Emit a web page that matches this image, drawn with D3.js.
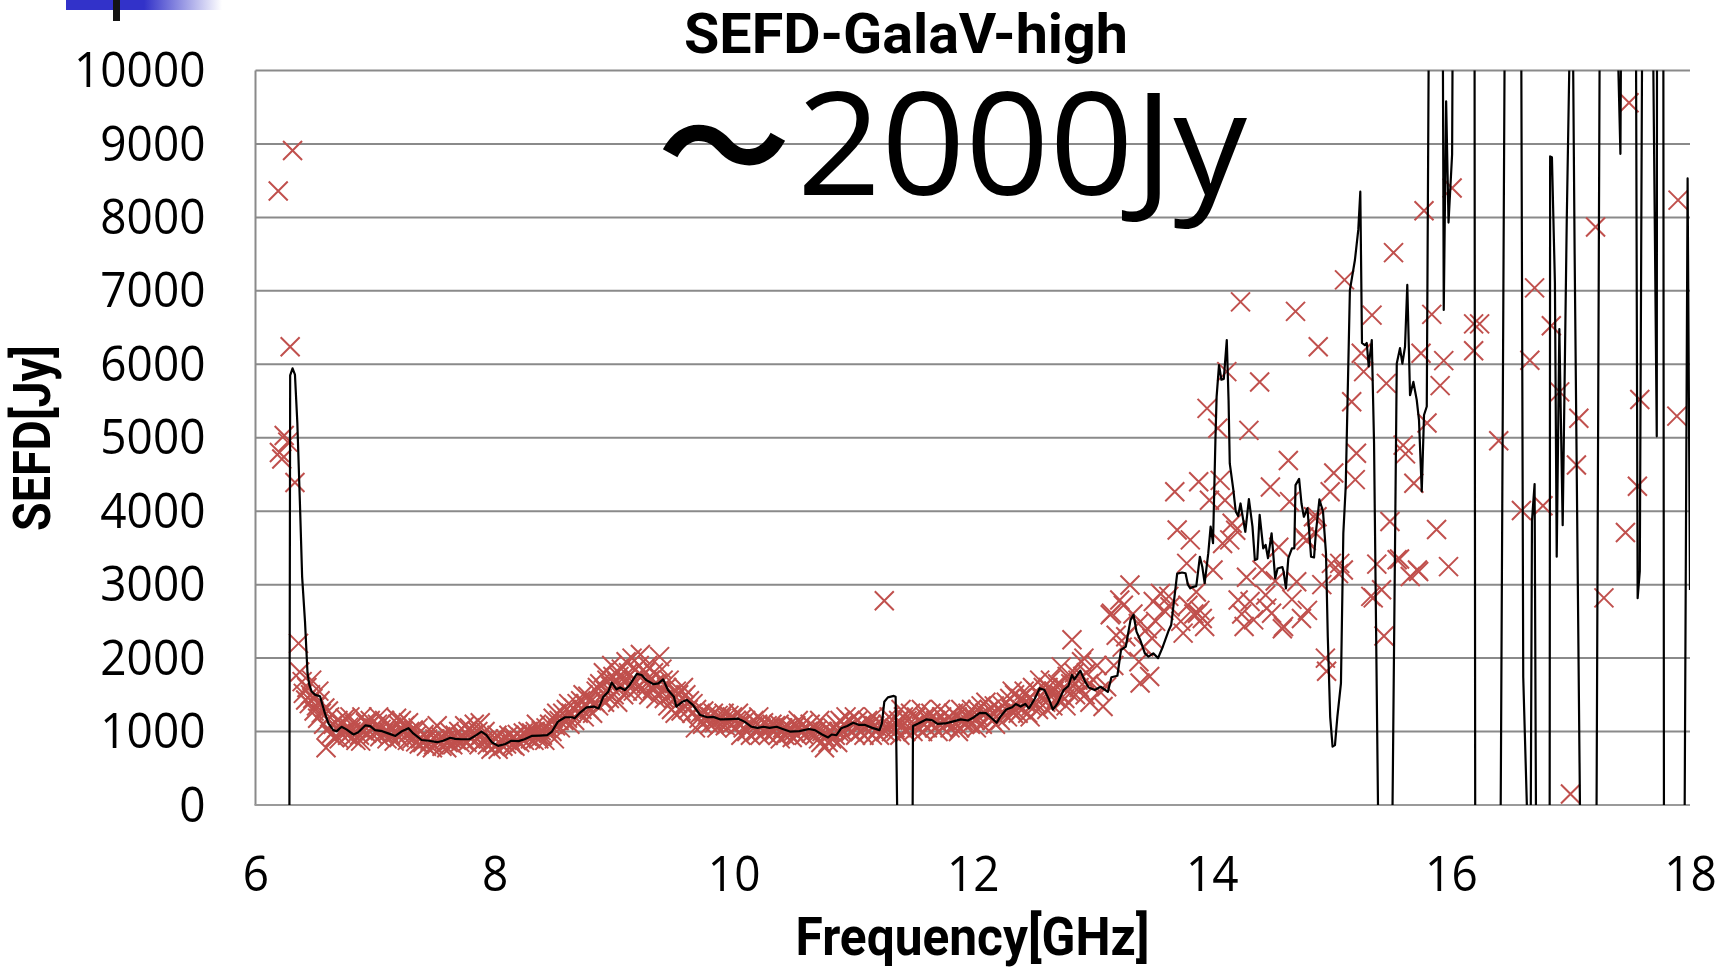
<!DOCTYPE html>
<html>
<head>
<meta charset="utf-8">
<script src="https://cdn.jsdelivr.net/npm/d3@7"></script>
<style>
  html, body { margin: 0; padding: 0; background: #ffffff; }
  svg { display: block; }
</style>
</head>
<body>
<svg id="chart" width="1729" height="973"></svg>
<script>
// ---- axis ticks and labels ----
const xTicks = [6, 8, 10, 12, 14, 16, 18];
const yTicks = [0, 1000, 2000, 3000, 4000, 5000, 6000, 7000, 8000, 9000, 10000];
const chartTitle = "SEFD-GalaV-high";
const xTitle = "Frequency[GHz]";
const yTitle = "SEFD[Jy]";
const noteMark = "～";
const noteText = "2000Jy";

// ---- smoothed SEFD curve: [frequency GHz, SEFD Jy] ----
const smoothData = [
  [6.283,-800],[6.29,5850],[6.31,5945],[6.33,5860],[6.35,5200],[6.372,4090],[6.39,3110],[6.414,2500],
  [6.435,1800],[6.45,1640],[6.47,1545],[6.50,1500],[6.54,1480],[6.58,1250],[6.61,1110],[6.65,1020],
  [6.68,1005],[6.72,1065],[6.76,1030],[6.82,960],[6.86,990],[6.92,1085],[6.96,1075],[7.00,1020],
  [7.06,1005],[7.11,975],[7.17,940],[7.22,1000],[7.28,1045],[7.32,975],[7.39,885],[7.45,875],
  [7.52,855],[7.57,875],[7.63,915],[7.67,900],[7.72,895],[7.79,895],[7.85,955],[7.89,1000],
  [7.93,955],[7.98,850],[8.03,805],[8.09,830],[8.14,875],[8.20,870],[8.25,895],[8.31,940],
  [8.38,945],[8.44,950],[8.48,1000],[8.53,1135],[8.59,1195],[8.65,1195],[8.67,1180],[8.71,1250],
  [8.77,1330],[8.83,1340],[8.87,1315],[8.91,1475],[8.95,1540],[8.98,1665],[9.02,1575],[9.05,1600],
  [9.09,1565],[9.13,1635],[9.19,1785],[9.23,1770],[9.27,1700],[9.33,1645],[9.37,1655],[9.41,1710],
  [9.45,1565],[9.50,1475],[9.52,1340],[9.57,1405],[9.61,1430],[9.66,1360],[9.72,1225],[9.78,1195],
  [9.83,1200],[9.89,1165],[9.98,1170],[10.04,1175],[10.09,1135],[10.15,1065],[10.20,1050],[10.25,1065],
  [10.30,1050],[10.36,1065],[10.41,1035],[10.47,1000],[10.55,1005],[10.63,1035],[10.68,1020],[10.74,960],
  [10.79,920],[10.82,960],[10.86,950],[10.90,1045],[10.95,1075],[11.00,1120],[11.05,1090],[11.10,1090],
  [11.16,1050],[11.22,1020],[11.24,1110],[11.26,1405],[11.29,1465],[11.34,1485],[11.355,1475],[11.375,-900],
  [11.495,-900],[11.50,1075],[11.545,1110],[11.61,1165],[11.66,1155],[11.705,1105],[11.77,1110],[11.83,1135],
  [11.90,1165],[11.96,1150],[12.01,1195],[12.06,1255],[12.11,1250],[12.15,1195],[12.20,1120],[12.23,1200],
  [12.28,1300],[12.33,1330],[12.36,1375],[12.40,1340],[12.44,1375],[12.47,1315],[12.52,1450],[12.56,1590],
  [12.60,1565],[12.64,1430],[12.67,1300],[12.71,1385],[12.76,1565],[12.80,1620],[12.83,1770],[12.85,1710],
  [12.90,1830],[12.94,1680],[12.97,1600],[13.02,1565],[13.07,1610],[13.13,1540],[13.16,1740],[13.21,1760],
  [13.24,2110],[13.28,2155],[13.32,2520],[13.345,2590],[13.37,2360],[13.40,2250],[13.44,2065],[13.47,2020],
  [13.51,2065],[13.55,2000],[13.59,2155],[13.64,2380],[13.66,2450],[13.71,3150],[13.75,3165],[13.78,3155],
  [13.80,3000],[13.82,2950],[13.845,2970],[13.87,2980],[13.90,3380],[13.92,3245],[13.94,3020],[13.97,3425],
  [13.99,3790],[14.01,3565],[14.03,4970],[14.04,5560],[14.06,5990],[14.08,5790],[14.10,5800],[14.125,6330],
  [14.14,5510],[14.15,4650],[14.18,4290],[14.20,3995],[14.22,3935],[14.24,4105],[14.26,3905],[14.28,3720],
  [14.31,4165],[14.34,3790],[14.36,3335],[14.38,3350],[14.40,3950],[14.43,3495],[14.45,3540],[14.47,3360],
  [14.50,3700],[14.53,3085],[14.55,3220],[14.59,3240],[14.60,3180],[14.62,2950],[14.64,3360],[14.67,3495],
  [14.69,3495],[14.70,4355],[14.73,4440],[14.75,4105],[14.77,3925],[14.80,4040],[14.83,3380],[14.855,3370],
  [14.87,3700],[14.90,4160],[14.93,3995],[14.955,3425],[14.97,2290],[14.99,1200],[15.01,795],[15.03,815],
  [15.05,1200],[15.08,1655],[15.10,3700],[15.12,4335],[15.155,7010],[15.197,7420],[15.225,7830],[15.242,8350],
  [15.256,6290],[15.28,6260],[15.296,6290],[15.312,5970],[15.338,6330],[15.357,4925],[15.40,-1500],[15.45,-3000],
  [15.50,-2000],[15.547,6010],[15.574,6220],[15.594,6010],[15.616,6240],[15.635,7080],[15.658,5580],[15.686,5760],
  [15.714,5515],[15.733,5240],[15.756,4270],[15.775,5310],[15.798,5425],[15.83,15000],[15.925,14000],[15.94,6740],
  [15.96,9580],[15.98,7930],[16.01,8860],[16.03,16000],[16.195,16000],[16.205,-4000],[16.30,-4000],[16.415,-500],
  [16.45,10500],[16.52,14000],[16.588,10600],[16.605,1740],[16.637,-100],[16.668,-100],[16.678,3870],[16.70,4370],
  [16.712,-300],[16.77,-2000],[16.826,-200],[16.83,8830],[16.845,8820],[16.87,7110],[16.885,3380],[16.907,6480],
  [16.935,3810],[16.969,7960],[16.996,10600],[17.01,12000],[17.02,10600],[17.035,7500],[17.08,-100],[17.15,-2000],
  [17.218,-200],[17.245,10600],[17.32,14000],[17.392,10600],[17.418,8865],[17.425,11000],[17.49,14000],[17.548,10600],
  [17.562,2815],[17.58,3185],[17.60,10600],[17.65,14000],[17.69,10600],[17.722,5020],[17.724,10600],[17.75,13000],
  [17.777,10600],[17.782,-200],[17.87,-2000],[17.955,-200],[17.98,8530],[18.0,2926]
];

// ---- raw SEFD samples: [frequency GHz, SEFD Jy] ----
const rawData = [
  [6.19,8360],[6.31,8910],[6.29,6240],[6.24,5030],[6.20,4800],[6.22,4710],[6.27,4940],[6.33,4390],
  [6.36,2200],[6.37,1810],[6.39,1680],[6.40,1520],[6.42,1430],[6.43,1600],[6.45,1380],[6.46,1500],
  [6.48,1450],[6.49,1280],[6.51,1350],[6.52,1180],[6.54,1420],[6.55,1250],[6.57,1100],[6.58,1320],
  [6.59,780],[6.60,1040],[6.62,1200],[6.63,960],[6.65,1100],[6.66,920],[6.68,1050],[6.69,1150],
  [6.71,980],[6.72,1120],[6.74,1000],[6.75,1180],[6.77,950],[6.78,1060],[6.80,1000],[6.81,920],
  [6.83,1100],[6.84,880],[6.86,1050],[6.87,950],[6.89,1200],[6.90,1010],[6.92,1120],[6.93,980],
  [6.95,1080],[6.96,1150],[6.98,960],[6.99,1050],[7.01,1000],[7.02,1100],[7.04,930],[7.05,1030],
  [7.07,980],[7.08,1150],[7.10,900],[7.11,1000],[7.13,950],[7.14,1060],[7.16,870],[7.17,980],
  [7.19,1100],[7.20,920],[7.22,1150],[7.23,1000],[7.25,1080],[7.26,950],[7.28,1120],[7.29,1000],
  [7.31,900],[7.32,1020],[7.34,860],[7.35,950],[7.37,830],[7.38,900],[7.40,850],[7.41,960],
  [7.43,800],[7.44,900],[7.46,870],[7.47,1000],[7.49,820],[7.50,900],[7.52,1080],[7.53,850],
  [7.55,930],[7.56,800],[7.58,880],[7.59,960],[7.61,850],[7.62,1000],[7.64,900],[7.65,820],
  [7.67,950],[7.68,880],[7.70,1000],[7.71,850],[7.73,920],[7.74,880],[7.76,980],[7.77,850],
  [7.79,1050],[7.80,900],[7.82,960],[7.83,1100],[7.85,900],[7.86,1000],[7.88,1120],[7.89,950],
  [7.91,880],[7.92,1000],[7.94,820],[7.95,900],[7.97,760],[7.98,850],[8.00,800],[8.01,900],
  [8.03,760],[8.04,850],[8.06,880],[8.07,800],[8.09,900],[8.10,830],[8.12,950],[8.13,880],
  [8.15,820],[8.16,930],[8.18,880],[8.19,960],[8.21,850],[8.22,920],[8.24,980],[8.25,880],
  [8.27,940],[8.28,1000],[8.30,900],[8.31,980],[8.33,880],[8.34,1000],[8.36,950],[8.37,900],
  [8.39,1010],[8.40,950],[8.42,880],[8.43,1050],[8.45,980],[8.46,1100],[8.48,1000],[8.49,1180],
  [8.51,1080],[8.52,1250],[8.54,1150],[8.55,1050],[8.57,1250],[8.58,1150],[8.60,1300],[8.61,1180],
  [8.63,1100],[8.64,1250],[8.66,1320],[8.67,1150],[8.69,1380],[8.70,1250],[8.72,1420],[8.73,1300],
  [8.75,1200],[8.76,1380],[8.78,1480],[8.79,1300],[8.81,1420],[8.82,1250],[8.84,1400],[8.85,1550],
  [8.87,1350],[8.88,1650],[8.90,1450],[8.91,1800],[8.93,1550],[8.94,1700],[8.96,1450],[8.97,1620],
  [8.99,1750],[9.00,1500],[9.02,1680],[9.03,1400],[9.05,1600],[9.06,1850],[9.08,1500],[9.09,1700],
  [9.11,1550],[9.12,1800],[9.14,1650],[9.15,2000],[9.17,1700],[9.18,1850],[9.20,1600],[9.21,1900],
  [9.23,1750],[9.24,1550],[9.26,1800],[9.27,1650],[9.29,1500],[9.30,1700],[9.32,1580],[9.33,1800],
  [9.35,1450],[9.36,1650],[9.38,2020],[9.39,1550],[9.41,1700],[9.42,1450],[9.44,1600],[9.45,1350],
  [9.47,1500],[9.48,1300],[9.50,1450],[9.51,1250],[9.53,1380],[9.54,1500],[9.56,1280],[9.57,1450],
  [9.59,1350],[9.60,1500],[9.62,1300],[9.63,1420],[9.65,1250],[9.66,1380],[9.68,1050],[9.69,1300],
  [9.71,1180],[9.72,1250],[9.74,1100],[9.75,1280],[9.77,1150],[9.78,1230],[9.80,1100],[9.81,1200],
  [9.83,1250],[9.84,1120],[9.86,1050],[9.87,1220],[9.89,1100],[9.90,1180],[9.92,1250],[9.93,1080],
  [9.95,1150],[9.96,1220],[9.98,1100],[9.99,1200],[10.01,1050],[10.02,1150],[10.04,1250],[10.05,1100],
  [10.07,1180],[10.08,1050],[10.10,1150],[10.11,1000],[10.13,1100],[10.14,950],[10.16,1080],[10.17,1150],
  [10.19,1000],[10.20,1100],[10.22,950],[10.23,1050],[10.25,1120],[10.26,1000],[10.28,1080],[10.29,950],
  [10.31,1050],[10.32,1100],[10.34,1000],[10.35,1080],[10.37,950],[10.38,1100],[10.40,1000],[10.41,1050],
  [10.43,950],[10.44,1050],[10.46,980],[10.47,1050],[10.49,920],[10.50,1000],[10.52,1080],[10.53,950],
  [10.55,1050],[10.56,1000],[10.58,1100],[10.59,950],[10.61,1050],[10.62,1000],[10.64,1100],[10.65,980],
  [10.67,1050],[10.68,950],[10.70,1020],[10.71,900],[10.73,850],[10.74,1000],[10.76,780],[10.77,920],
  [10.79,850],[10.80,1000],[10.82,900],[10.83,1050],[10.85,950],[10.86,1100],[10.88,1000],[10.89,1150],
  [10.91,1000],[10.92,1100],[10.94,1200],[10.95,1050],[10.97,1150],[10.98,1000],[11.00,1100],[11.01,1200],
  [11.03,1050],[11.04,1150],[11.06,1000],[11.07,1100],[11.09,950],[11.10,1050],[11.12,1150],[11.13,1000],
  [11.15,1100],[11.16,950],[11.18,1080],[11.19,1000],[11.21,1050],[11.22,950],[11.24,1100],[11.26,2780],
  [11.27,1000],[11.29,1100],[11.30,1200],[11.32,1000],[11.33,1150],[11.35,1050],[11.36,1000],[11.38,1150],
  [11.39,950],[11.41,1080],[11.42,1200],[11.44,1000],[11.45,1150],[11.47,1050],[11.48,1250],[11.50,1000],
  [11.51,1100],[11.53,1200],[11.54,1050],[11.56,1150],[11.57,1300],[11.59,1100],[11.60,1200],[11.62,1050],
  [11.63,1150],[11.65,1250],[11.66,1100],[11.68,1050],[11.69,1150],[11.71,1000],[11.72,1100],[11.74,1200],
  [11.75,1050],[11.77,1150],[11.78,1100],[11.80,1200],[11.81,1050],[11.83,1150],[11.84,1250],[11.86,1100],
  [11.87,1200],[11.89,1050],[11.90,1300],[11.92,1150],[11.93,1100],[11.95,1200],[11.96,1250],[11.98,1100],
  [11.99,1300],[12.01,1200],[12.02,1150],[12.04,1300],[12.05,1200],[12.07,1350],[12.08,1100],[12.10,1250],
  [12.11,1400],[12.13,1200],[12.14,1300],[12.16,1150],[12.17,1250],[12.19,1100],[12.20,1200],[12.22,1300],
  [12.23,1150],[12.25,1350],[12.26,1250],[12.28,1400],[12.29,1200],[12.31,1450],[12.32,1300],[12.34,1250],
  [12.35,1500],[12.37,1350],[12.38,1250],[12.40,1450],[12.41,1300],[12.43,1550],[12.44,1400],[12.46,1250],
  [12.47,1450],[12.49,1350],[12.50,1600],[12.52,1400],[12.53,1550],[12.55,1300],[12.56,1700],[12.58,1450],
  [12.59,1600],[12.61,1400],[12.62,1300],[12.64,1500],[12.65,1700],[12.67,1350],[12.68,1550],[12.70,1450],
  [12.71,1650],[12.73,1500],[12.74,1880],[12.76,1600],[12.77,1450],[12.79,1750],[12.80,1550],[12.82,1650],
  [12.83,2250],[12.85,1800],[12.86,1500],[12.88,1700],[12.89,1600],[12.91,1950],[12.92,1750],[12.94,1500],
  [12.95,1800],[12.97,1650],[12.98,1400],[13.01,1700],[13.04,1900],[13.06,1550],[13.09,1340],[13.12,1610],
  [13.15,2590],[13.16,2610],[13.18,1900],[13.20,2310],[13.23,2790],[13.25,2150],[13.26,2720],[13.28,2290],
  [13.315,2995],[13.34,2600],[13.385,2470],[13.39,1950],[13.40,1660],[13.43,2155],[13.46,2400],[13.48,1750],
  [13.50,2270],[13.51,2770],[13.53,2500],[13.57,2880],[13.60,2650],[13.64,2840],[13.65,2700],[13.69,4265],
  [13.71,3745],[13.74,2500],[13.76,2340],[13.79,3290],[13.80,2720],[13.82,3610],[13.85,2600],[13.87,2900],
  [13.88,2610],[13.89,4400],[13.90,2650],[13.92,2540],[13.94,2430],[13.96,5400],[13.98,4150],[14.01,3200],
  [14.05,5130],[14.07,4420],[14.09,3560],[14.11,4150],[14.125,5900],[14.15,3610],[14.17,3835],[14.20,3740],
  [14.22,2790],[14.24,6850],[14.25,2600],[14.27,2430],[14.29,3100],[14.31,5100],[14.32,2770],[14.35,2520],
  [14.40,5760],[14.42,3200],[14.45,2860],[14.46,2680],[14.49,4330],[14.50,2610],[14.53,3050],[14.56,3510],
  [14.59,2400],[14.60,2430],[14.64,4690],[14.65,4130],[14.67,2800],[14.70,6720],[14.71,3040],[14.75,2540],
  [14.77,3650],[14.79,3600],[14.80,2650],[14.85,3925],[14.87,3700],[14.88,3925],[14.89,6240],[14.92,3000],
  [14.95,2000],[14.96,1820],[14.99,4265],[15.00,3290],[15.02,4520],[15.06,3150],[15.07,3290],[15.10,3200],
  [15.11,7150],[15.17,5490],[15.20,4430],[15.21,4790],[15.25,6150],[15.27,5900],[15.33,2840],[15.34,6670],
  [15.35,2820],[15.38,3280],[15.42,2930],[15.44,2300],[15.46,5740],[15.49,3860],[15.52,7520],[15.55,3340],
  [15.57,3350],[15.60,4900],[15.62,4780],[15.66,3110],[15.69,4380],[15.72,3200],[15.73,3180],[15.75,6150],
  [15.775,8090],[15.80,5200],[15.84,6680],[15.88,3750],[15.91,5710],[15.94,6050],[15.98,3245],[16.01,8400],
  [16.19,6550],[16.19,6185],[16.24,6550],[16.40,4960],[16.59,4010],[16.66,6055],[16.70,7040],[16.77,4075],
  [16.84,6525],[16.91,5625],[17.00,150],[17.05,4630],[17.07,5265],[17.21,7870],[17.28,2820],[17.46,3710],
  [17.49,9560],[17.56,4340],[17.58,5520],[17.89,5295],[17.90,8235],
  // additional samples filling out the dense band below 13 GHz
  [6.47,1700],[6.53,1550],[6.61,1280],[6.70,900],[6.79,1200],[6.88,870],[7.03,1200],[7.18,1180],
  [7.27,880],[7.36,1050],[7.48,780],[7.60,780],[7.75,1080],[7.87,820],[8.02,950],[8.17,800],
  [8.35,1100],[8.50,900],[8.62,1380],[8.74,1500],[8.86,1600],[8.92,1400],[8.98,1900],[9.04,1750],
  [9.10,1950],[9.16,1550],[9.22,2050],[9.28,1900],[9.34,1650],[9.40,1850],[9.46,1700],[9.52,1550],
  [9.58,1600],[10.06,950],[10.21,1200],[10.39,900],[10.54,1150],[10.72,1150],[10.87,850],[11.02,950],
  [11.17,1200],[11.40,1300],[11.58,1000],[11.73,1300],[11.88,1000],[12.03,1050],[12.18,1350],[12.33,1550],
  [12.48,1200],[12.63,1600],[12.78,1350],[12.93,2000]
];

// ---- layout ----
const svg = d3.select("#chart");
const plot = { left: 255.5, right: 1690, top: 70.5, bottom: 805 };
const x = d3.scaleLinear().domain([6, 18]).range([plot.left, plot.right]);
const y = d3.scaleLinear().domain([0, 10000]).range([plot.bottom, plot.top]);

// slide ornament in the top-left corner
const defs = svg.append("defs");
const grad = defs.append("linearGradient").attr("id", "barFade")
  .attr("x1", "0%").attr("x2", "100%").attr("y1", "0%").attr("y2", "0%");
grad.append("stop").attr("offset", "0%").attr("stop-color", "#3232c9");
grad.append("stop").attr("offset", "50%").attr("stop-color", "#3232c9");
grad.append("stop").attr("offset", "100%").attr("stop-color", "#ffffff");
svg.append("rect").attr("x", 66).attr("y", 0).attr("width", 156).attr("height", 10)
  .attr("fill", "url(#barFade)");
svg.append("rect").attr("x", 113).attr("y", 0).attr("width", 7).attr("height", 21)
  .attr("fill", "#141414");

defs.append("clipPath").attr("id", "plotClip").append("rect")
  .attr("x", plot.left).attr("y", plot.top)
  .attr("width", plot.right - plot.left).attr("height", plot.bottom - plot.top);

// horizontal gridlines
svg.append("g").selectAll("line")
  .data(yTicks.filter(d => d > 0))
  .join("line")
  .attr("x1", plot.left).attr("x2", plot.right)
  .attr("y1", d => y(d)).attr("y2", d => y(d))
  .attr("stroke", "#8a8a8a").attr("stroke-width", 2);

// axis lines
svg.append("line").attr("x1", plot.left).attr("x2", plot.left)
  .attr("y1", plot.top).attr("y2", plot.bottom)
  .attr("stroke", "#8a8a8a").attr("stroke-width", 2);
svg.append("line").attr("x1", plot.left - 1).attr("x2", plot.right)
  .attr("y1", plot.bottom).attr("y2", plot.bottom)
  .attr("stroke", "#9a9a9a").attr("stroke-width", 2.2);

// tick labels
const tickFont = 46, tickStretch = 1.09;
const yAxis = svg.append("g").attr("transform", `translate(${plot.left},0)`)
  .call(d3.axisLeft(y).tickValues(yTicks).tickSize(0).tickPadding(50).tickFormat(d => String(d)));
yAxis.select(".domain").remove();
yAxis.selectAll("text")
  .attr("font-family", "'Open Sans', sans-serif").attr("font-size", tickFont)
  .attr("fill", "#000").attr("transform", `scale(1,${tickStretch})`);

const xAxis = svg.append("g").attr("transform", `translate(0,${plot.bottom})`)
  .call(d3.axisBottom(x).tickValues(xTicks).tickSize(0).tickFormat(d => String(d)));
xAxis.select(".domain").remove();
xAxis.selectAll("text")
  .attr("font-family", "'Open Sans', sans-serif").attr("font-size", tickFont)
  .attr("fill", "#000").attr("dy", 0).attr("y", 86 / tickStretch)
  .attr("transform", `scale(1,${tickStretch})`);

// raw samples as × markers
const arm = 9.5;
svg.append("g").attr("clip-path", "url(#plotClip)")
  .selectAll("path")
  .data(rawData)
  .join("path")
  .attr("d", d => {
    const cx = x(d[0]), cy = y(d[1]);
    return `M${cx - arm},${cy - arm}L${cx + arm},${cy + arm}M${cx - arm},${cy + arm}L${cx + arm},${cy - arm}`;
  })
  .attr("fill", "none").attr("stroke", "#c0504d").attr("stroke-width", 2);

// smoothed curve
svg.append("path")
  .datum(smoothData)
  .attr("clip-path", "url(#plotClip)")
  .attr("d", d3.line().x(d => x(d[0])).y(d => y(d[1])))
  .attr("fill", "none").attr("stroke", "#000").attr("stroke-width", 2.2)
  .attr("stroke-linejoin", "round");

// text fitted to a width and a cap height
function fitText(str, opts) {
  const fs = opts.cap / opts.capRatio;
  const t = svg.append("text").text(str)
    .attr("font-family", opts.family)
    .attr("font-weight", opts.weight || "normal")
    .attr("font-size", fs)
    .attr("text-anchor", opts.anchor || "middle")
    .attr("fill", "#000");
  const len = t.node().getComputedTextLength();
  const sx = opts.width / len;
  t.attr("transform", `translate(${opts.x},${opts.y}) rotate(${opts.rotate || 0}) scale(${sx},1)`);
  return t;
}

const boldFace = { family: "Roboto, sans-serif", weight: "bold", capRatio: 0.711 };
fitText(chartTitle, { ...boldFace, x: 906, y: 53, width: 444, cap: 39.5 });
fitText(xTitle, { ...boldFace, x: 972.5, y: 955, width: 354, cap: 38 });
fitText(yTitle, { ...boldFace, x: 50, y: 438, width: 186, cap: 37, rotate: -90 });
fitText(noteText, { family: "'Open Sans', sans-serif", capRatio: 0.714,
  x: 797, y: 195, width: 450, cap: 102, anchor: "start" });
svg.append("text").text(noteMark)
  .attr("x", 724).attr("y", 195)
  .attr("font-family", "'Noto Sans CJK JP', sans-serif").attr("font-weight", "bold")
  .attr("font-size", 132).attr("text-anchor", "middle").attr("fill", "#000");
</script>
</body>
</html>
